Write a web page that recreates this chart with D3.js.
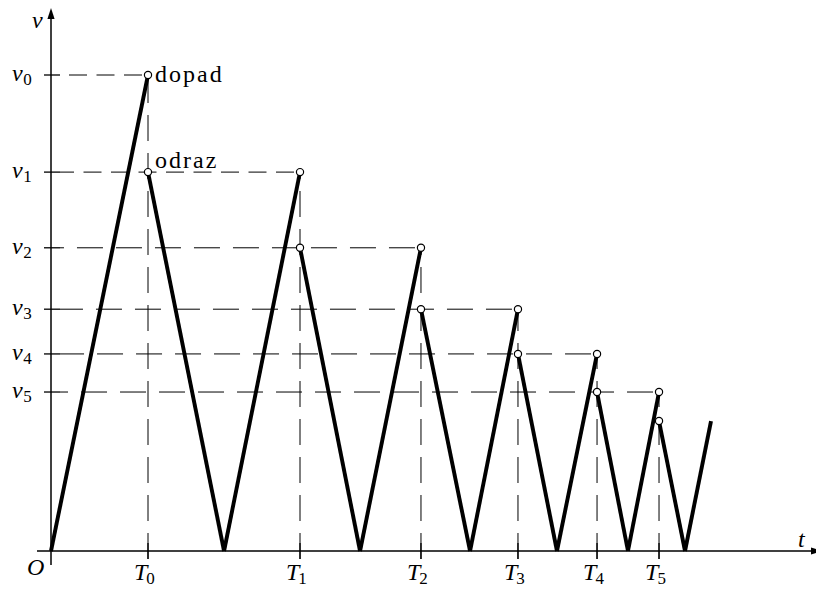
<!DOCTYPE html>
<html><head><meta charset="utf-8">
<script src="https://cdn.jsdelivr.net/npm/d3@7"></script>
<style>
html,body{margin:0;padding:0;background:#fff;}
svg{display:block;}
svg text{font-family:"Liberation Serif","DejaVu Serif",serif;}
</style></head>
<body>
<script>
// ---- data (t in units of T0, v in units of v0) ----
const impactT = [1.000, 2.567, 3.814, 4.814, 5.629, 6.268];          // T0..T5
const groundT = [0, 1.784, 3.186, 4.320, 5.216, 5.948, 6.536];        // v = 0 instants
const speeds  = [1.000, 0.796, 0.637, 0.508, 0.414, 0.334, 0.273];    // v0..v6
const endT = 6.804;
const vLabels = ["0", "1", "2", "3", "4", "5"];
const tLabels = ["0", "1", "2", "3", "4", "5"];
const tMax = 7.876, vMax = 1.141;

const W = 816, H = 589;
const x = d3.scaleLinear().domain([0, tMax]).range([51, 815]);
const y = d3.scaleLinear().domain([0, 1]).range([551, 75]);

const svg = d3.select("body").append("svg").attr("width", W).attr("height", H);

// segments of the curve: rise to impact, fall after rebound
const segs = [];
impactT.forEach((T, i) => {
  segs.push([[groundT[i], 0], [T, speeds[i]]]);
  segs.push([[T, speeds[i + 1]], [groundT[i + 1], 0]]);
});
segs.push([[groundT[6], 0], [endT, speeds[6]]]);

// dashed helper lines
const dashH = (i) => i < 2 ? "18,9.5" : "26,13";
impactT.forEach((T, i) => {
  svg.append("line")
    .attr("x1", x(T) - 6).attr("y1", y(speeds[i]))
    .attr("x2", x(0) + 9).attr("y2", y(speeds[i]))
    .attr("stroke", "#000").attr("stroke-width", 1)
    .attr("stroke-dasharray", dashH(i));
  svg.append("line")
    .attr("x1", x(T)).attr("y1", y(0) + 8)
    .attr("x2", x(T)).attr("y2", y(speeds[i]))
    .attr("stroke", "#000").attr("stroke-width", 1)
    .attr("stroke-dasharray", "26,12");
});

// axes
const axisG = svg.append("g").attr("stroke", "#000").attr("stroke-width", 1.5);
axisG.append("line").attr("x1", x(0) - 14).attr("y1", y(0)).attr("x2", 812).attr("y2", y(0));
axisG.append("line").attr("x1", x(0)).attr("y1", y(0) + 14).attr("x2", x(0)).attr("y2", y(vMax) + 8);
svg.append("path").attr("d", `M${x(0)},${y(vMax)} l-3.6,11 l7.2,0 z`).attr("fill", "#000");
svg.append("path").attr("d", `M822,${y(0)} l-11,-3.6 l0,7.2 z`).attr("fill", "#000");

// ticks
impactT.forEach((T, i) => {
  axisG.append("line").attr("x1", x(T)).attr("x2", x(T)).attr("y1", y(0) - 8).attr("y2", y(0) + 8).attr("stroke-width", 1.3);
  axisG.append("line").attr("y1", y(speeds[i])).attr("y2", y(speeds[i])).attr("x1", x(0) - 7).attr("x2", x(0) + 9).attr("stroke-width", 1.3);
});

// main curve
const line = d3.line().x(d => x(d[0])).y(d => y(d[1]));
svg.selectAll("path.seg").data(segs).join("path").attr("class", "seg")
  .attr("d", line)
  .attr("fill", "none").attr("stroke", "#000").attr("stroke-width", 3.9)
  .attr("stroke-linecap", "butt");

// circles
const circ = [];
impactT.forEach((T, i) => { circ.push([T, speeds[i]]); circ.push([T, speeds[i + 1]]); });
svg.selectAll("circle.pt").data(circ).join("circle")
  .attr("cx", d => x(d[0])).attr("cy", d => y(d[1])).attr("r", 3.6)
  .attr("fill", "#fff").attr("stroke", "#000").attr("stroke-width", 1.2);

// labels
const fs = 24, fsSub = 17;
vLabels.forEach((s, i) => {
  const t = svg.append("text").attr("x", 12).attr("y", y(speeds[i]) + 6).attr("font-size", fs);
  t.append("tspan").attr("font-style", "italic").text("v");
  t.append("tspan").attr("font-size", fsSub).attr("dy", 4).attr("dx", 0.5).text(s);
});
tLabels.forEach((s, i) => {
  const t = svg.append("text").attr("x", x(impactT[i]) - 14).attr("y", 580).attr("font-size", fs);
  t.append("tspan").attr("font-style", "italic").text("T");
  t.append("tspan").attr("font-size", fsSub).attr("dy", 4).attr("dx", -1).text(s);
});
svg.append("text").attr("x", 27).attr("y", 575).attr("font-size", fs).attr("font-style", "italic").text("O");
svg.append("text").attr("x", 798).attr("y", 547).attr("font-size", fs).attr("font-style", "italic").text("t");
svg.append("text").attr("x", 32).attr("y", 28).attr("font-size", fs).attr("font-style", "italic").text("v");
svg.append("text").attr("x", 155).attr("y", 82).attr("font-size", fs).attr("letter-spacing", 2).text("dopad");
svg.append("text").attr("x", 155).attr("y", 168).attr("font-size", fs).attr("letter-spacing", 2).text("odraz");
</script>
</body></html>
